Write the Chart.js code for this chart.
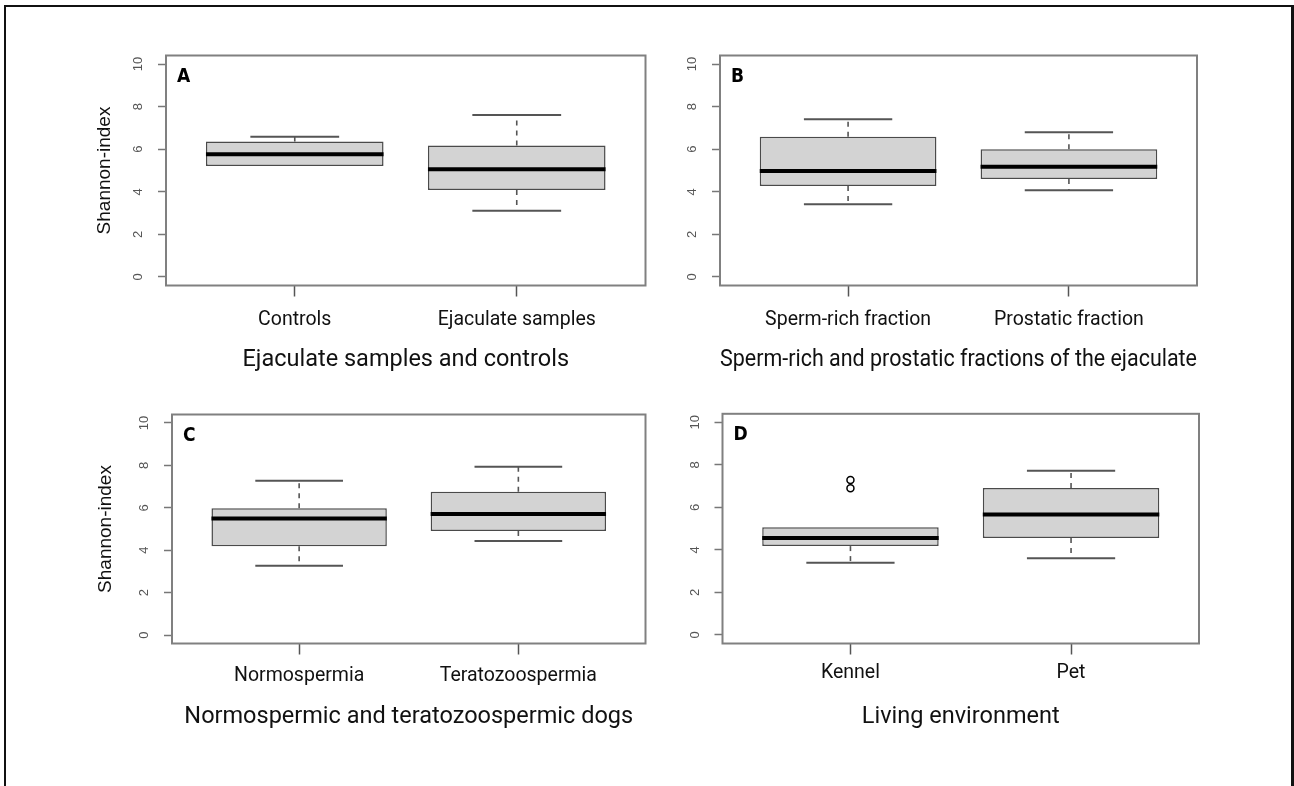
<!DOCTYPE html>
<html>
<head>
<meta charset="utf-8">
<title>Shannon-index</title>
<script src="https://cdn.jsdelivr.net/npm/chart.js@4"></script>
<style>
  body { margin: 0; background: #fff; }
  #page { position: relative; width: 1294px; height: 786px; overflow: hidden; }
  #frame {
    position: absolute; left: 4px; top: 5px; width: 1290px; height: 800px;
    box-sizing: border-box; border: 2px solid #111; border-right-width: 3px;
  }
  .panel { position: absolute; }
</style>
</head>
<body>
<div id="page">
  <div id="frame"></div>
  <div class="panel" style="left:8px;top:8px;width:642px;height:382px"><canvas id="chartA"></canvas></div>
  <div class="panel" style="left:652px;top:8px;width:600px;height:382px"><canvas id="chartB"></canvas></div>
  <div class="panel" style="left:8px;top:394px;width:642px;height:384px"><canvas id="chartC"></canvas></div>
  <div class="panel" style="left:652px;top:394px;width:600px;height:384px"><canvas id="chartD"></canvas></div>
</div>
<script>
const yTicks = [0, 2, 4, 6, 8, 10];

// A: ejaculate samples vs controls
const groupsA = ['Controls', 'Ejaculate samples'];
const lowA  = [5.21, 3.11];
const q1A   = [5.21, 4.08];
const medA  = [5.76, 5.06];
const q3A   = [6.36, 6.17];
const highA = [6.59, 7.61];
const outA  = [[], []];

// B: sperm-rich vs prostatic fraction
const groupsB = ['Sperm-rich fraction', 'Prostatic fraction'];
const lowB  = [3.41, 4.07];
const q1B   = [4.27, 4.60];
const medB  = [4.98, 5.18];
const q3B   = [6.59, 6.00];
const highB = [7.41, 6.80];
const outB  = [[], []];

// C: normospermia vs teratozoospermia
const groupsC = ['Normospermia', 'Teratozoospermia'];
const lowC  = [3.27, 4.43];
const q1C   = [4.19, 4.90];
const medC  = [5.50, 5.71];
const q3C   = [5.98, 6.76];
const highC = [7.27, 7.93];
const outC  = [[], []];

// D: kennel vs pet
const groupsD = ['Kennel', 'Pet'];
const lowD  = [3.40, 3.61];
const q1D   = [4.18, 4.56];
const medD  = [4.56, 5.67];
const q3D   = [5.06, 6.91];
const highD = [5.06, 7.72];
const outD  = [[6.90, 7.29], []];

Chart.defaults.font.family = 'Roboto';
Chart.defaults.animation = false;

// whiskers, staples, medians, plot frame and panel letter
const boxPlot = {
  id: 'boxPlot',
  afterDatasetsDraw(chart, args, o) {
    const ctx = chart.ctx;
    const y = chart.scales.y;
    const bars = chart.getDatasetMeta(0).data;
    ctx.save();
    ctx.lineCap = 'butt';
    bars.forEach((bar, i) => {
      const x = bar.x;
      const half = bar.width / 2;
      const pLow = y.getPixelForValue(o.low[i]);
      const pQ1 = y.getPixelForValue(o.q1[i]);
      const pMed = y.getPixelForValue(o.med[i]);
      const pQ3 = y.getPixelForValue(o.q3[i]);
      const pHigh = y.getPixelForValue(o.high[i]);

      ctx.strokeStyle = '#555';
      ctx.lineWidth = 1.6;
      ctx.setLineDash([5, 5]);
      ctx.beginPath();
      if (o.high[i] > o.q3[i]) { ctx.moveTo(x, pQ3); ctx.lineTo(x, pHigh); }
      if (o.low[i] < o.q1[i]) { ctx.moveTo(x, pQ1); ctx.lineTo(x, pLow); }
      ctx.stroke();
      ctx.setLineDash([]);

      ctx.lineWidth = 2;
      ctx.beginPath();
      if (o.high[i] > o.q3[i]) { ctx.moveTo(x - half / 2, pHigh); ctx.lineTo(x + half / 2, pHigh); }
      if (o.low[i] < o.q1[i]) { ctx.moveTo(x - half / 2, pLow); ctx.lineTo(x + half / 2, pLow); }
      ctx.stroke();

      ctx.strokeStyle = '#000';
      ctx.lineWidth = 4;
      ctx.beginPath();
      ctx.moveTo(x - half, pMed);
      ctx.lineTo(x + half, pMed);
      ctx.stroke();
    });

    const a = chart.chartArea;
    ctx.strokeStyle = '#808080';
    ctx.lineWidth = 2;
    ctx.strokeRect(a.left, a.top, a.right - a.left, a.bottom - a.top);

    ctx.fillStyle = '#000';
    ctx.font = 'bold 19px "Liberation Sans Narrow", "DejaVu Sans Condensed", sans-serif';
    ctx.textBaseline = 'top';
    ctx.textAlign = 'left';
    ctx.fillText(o.letter, a.left + 11, a.top + 12);
    ctx.restore();
  }
};

function makePanel(id, p, g) {
  const outliers = p.out.flatMap((vals, i) => vals.map(v => ({ x: i + 1, y: v })));
  new Chart(document.getElementById(id), {
    type: 'bar',
    data: {
      datasets: [
        {
          type: 'bar',
          data: p.groups.map((name, i) => ({ x: i + 1, y: [p.q1[i], p.q3[i]] })),
          backgroundColor: '#d3d3d3',
          borderColor: '#4a4a4a',
          borderWidth: 1.5,
          borderSkipped: false,
          barPercentage: 0.8,
          categoryPercentage: 1
        },
        {
          type: 'scatter',
          data: outliers,
          pointStyle: 'circle',
          pointRadius: 3.5,
          backgroundColor: 'rgba(0,0,0,0)',
          borderColor: '#000',
          borderWidth: 1.5
        }
      ]
    },
    options: {
      responsive: true,
      maintainAspectRatio: false,
      layout: {
        padding: { left: 0, bottom: 0, top: g.area.t - g.rect.y, right: g.rect.x + g.rect.w - g.area.r }
      },
      plugins: {
        legend: { display: false },
        tooltip: { enabled: false },
        boxPlot: { letter: p.letter, low: p.low, q1: p.q1, med: p.med, q3: p.q3, high: p.high }
      },
      scales: {
        x: {
          type: 'linear',
          min: 0.42,
          max: 2.58,
          offset: false,
          afterBuildTicks: s => { s.ticks = p.groups.map((name, i) => ({ value: i + 1 })); },
          afterFit: s => { s.height = g.rect.y + g.rect.h - g.area.b; },
          border: { display: false },
          grid: { offset: false, drawOnChartArea: false, drawTicks: true, tickLength: 11, tickColor: '#555', tickWidth: 1.5 },
          ticks: {
            autoSkip: false, maxRotation: 0, padding: g.labelOff - 11 - 11.7,
            color: '#111', font: { size: 19.5 },
            callback: (v, i) => p.groups[i]
          },
          title: {
            display: true, text: p.xTitle, color: '#111', font: { size: 23.5 },
            padding: { top: 0, bottom: g.rect.y + g.rect.h - g.titleY - 14.1 }
          }
        },
        y: {
          type: 'linear',
          min: -0.4,
          max: 10.4,
          afterBuildTicks: s => { s.ticks = yTicks.map(v => ({ value: v })); },
          afterFit: s => { s.width = g.area.l - g.rect.x; },
          border: { display: false },
          grid: { drawOnChartArea: false, drawTicks: true, tickLength: 8, tickColor: '#777', tickWidth: 1.5 },
          ticks: {
            autoSkip: false, minRotation: 90, maxRotation: 90, crossAlign: 'center', padding: 12,
            color: '#555', font: { family: '"Liberation Sans", Arial, sans-serif', size: 13 }
          },
          title: {
            display: p.yTitle !== '', text: p.yTitle, color: '#111',
            font: { family: '"Liberation Sans", Arial, sans-serif', size: 19 },
            padding: { top: g.yTitleX - g.rect.x - 11.4, bottom: 0 }
          }
        }
      }
    },
    plugins: [boxPlot]
  });
}

makePanel('chartA',
  { letter: 'A', groups: groupsA, low: lowA, q1: q1A, med: medA, q3: q3A, high: highA, out: outA,
    xTitle: 'Ejaculate samples and controls', yTitle: 'Shannon-index' },
  { rect: { x: 8, y: 8, w: 642, h: 382 }, area: { l: 166, t: 55.5, r: 645.5, b: 285.5 },
    labelOff: 35, titleY: 360, yTitleX: 105 });

makePanel('chartB',
  { letter: 'B', groups: groupsB, low: lowB, q1: q1B, med: medB, q3: q3B, high: highB, out: outB,
    xTitle: 'Sperm-rich and prostatic fractions of the ejaculate', yTitle: '' },
  { rect: { x: 652, y: 8, w: 600, h: 382 }, area: { l: 720, t: 55.5, r: 1197, b: 285.5 },
    labelOff: 35, titleY: 360, yTitleX: 0 });

makePanel('chartC',
  { letter: 'C', groups: groupsC, low: lowC, q1: q1C, med: medC, q3: q3C, high: highC, out: outC,
    xTitle: 'Normospermic and teratozoospermic dogs', yTitle: 'Shannon-index' },
  { rect: { x: 8, y: 394, w: 642, h: 384 }, area: { l: 172, t: 414.5, r: 645.5, b: 643.5 },
    labelOff: 32.3, titleY: 716.7, yTitleX: 106 });

makePanel('chartD',
  { letter: 'D', groups: groupsD, low: lowD, q1: q1D, med: medD, q3: q3D, high: highD, out: outD,
    xTitle: 'Living environment', yTitle: '' },
  { rect: { x: 652, y: 394, w: 600, h: 384 }, area: { l: 722.5, t: 413.5, r: 1199, b: 643.5 },
    labelOff: 29.5, titleY: 716.7, yTitleX: 0 });
</script>
</body>
</html>
